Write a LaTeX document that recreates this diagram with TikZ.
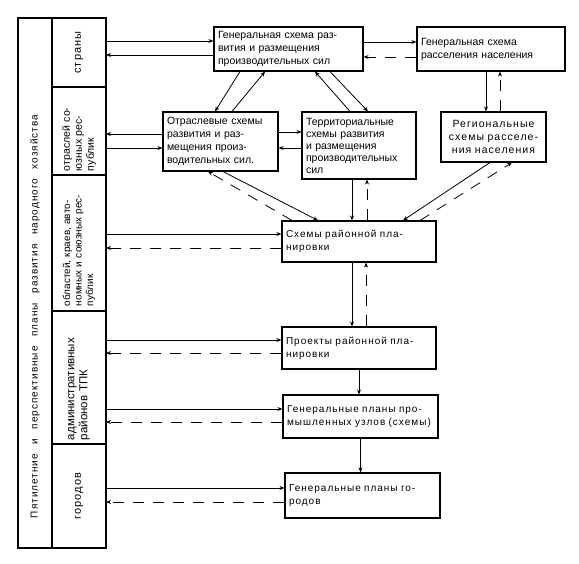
\documentclass[tikz,border=0pt]{standalone}
\usepackage{fontspec}
\setmainfont{Liberation Sans}
\newfontfamily\widefont[LetterSpace=10]{Liberation Sans}
\usetikzlibrary{arrows.meta}
\setlength{\parindent}{0pt}
\newcommand{\sline}[1]{\makebox[\hsize][s]{#1}}
\tikzset{
  box/.style={draw, line width=1.1pt, inner sep=3pt, align=left, font=\fontsize{10.5}{13}\selectfont},
  lowbox/.style={box, font=\widefont\fontsize{10}{13}\selectfont},
  colbox/.style={draw, line width=1.1pt, inner sep=3pt, rotate=90, minimum height=54pt, font=\fontsize{10}{11.5}\selectfont},
  arr/.style={-{Stealth[length=5pt,width=4pt]}, line width=0.8pt},
  dsh/.style={arr, dash pattern=on 11pt off 9pt}
}
\begin{document}
\begin{tikzpicture}[x=1pt,y=-1pt]
\useasboundingbox (0,0) rectangle (579,563);
% left column
\node[draw, line width=1.1pt, inner sep=0pt, rotate=90, minimum width=530pt, minimum height=34pt, font=\widefont\fontsize{10}{12}\selectfont] (plan) at (35,283)
  {\makebox[470pt][l]{\makebox[403pt][s]{Пятилетние и перспективные планы развития народного хозяйства}}};
\node[colbox, minimum width=69pt, font=\widefont\fontsize{11}{13}\selectfont] (strany) at (79,52.5) {страны};
\node[colbox, minimum width=88pt, text width=80pt, align=left, font=\fontsize{10.5}{12}\selectfont] (otrasl) at (79,131)
  {\sline{отраслей со-}\\\sline{юзных рес-}\\публик};
\node[colbox, minimum width=136pt, text width=126pt, align=left] (oblast) at (79,243)
  {\sline{областей, краев, авто-}\\\sline{номных и союзных рес-}\\публик};
\node[colbox, minimum width=133pt, text width=125pt, align=left, font=\fontsize{11.5}{13}\selectfont] (admin) at (79,377.5)
  {административных\\районов ТПК};
\node[colbox, minimum width=104pt, font=\widefont\fontsize{11}{13}\selectfont] (goroda) at (79,496) {городов};
% boxes
\node[box, minimum width=149pt, minimum height=44pt, text width=141pt] (gs) at (288.5,49)
  {\sline{Генеральная схема раз-}\\вития и размещения\\производительных сил};
\node[box, minimum width=148pt, minimum height=44pt, text width=140pt] (gr) at (491,49)
  {\sline{Генеральная схема}\\\sline{расселения населения}};
\node[box, minimum width=115pt, minimum height=59pt, text width=107pt] (otr) at (220.5,141.5)
  {\sline{Отраслевые схемы}\\\sline{развития и раз-}\\\sline{мещения произ-}\\водительных сил.};
\node[box, minimum width=114pt, minimum height=67pt, text width=106pt, font=\fontsize{10.5}{12}\selectfont] (ter) at (359,145.5)
  {Территориальные\\схемы развития\\и размещения\\производительных\\сил};
\node[box, minimum width=105pt, minimum height=50pt, text width=97pt, align=center, font=\widefont\fontsize{10.5}{13}\selectfont] (reg) at (493.5,137)
  {Региональные\\схемы расселе-\\ния населения};
\node[lowbox, minimum width=154pt, minimum height=41pt, text width=146pt] (srp) at (359,241.5)
  {\sline{Схемы районной пла-}\\нировки};
\node[lowbox, minimum width=154pt, minimum height=42pt, text width=146pt] (prp) at (359,348)
  {\sline{Проекты районной пла-}\\нировки};
\node[lowbox, minimum width=155pt, minimum height=43pt, text width=147pt] (pu) at (360.5,416.5)
  {\sline{Генеральные планы про-}\\\sline{мышленных узлов (схемы)}};
\node[lowbox, minimum width=155pt, minimum height=45pt, text width=147pt] (pg) at (362.5,495.5)
  {\sline{Генеральные планы го-}\\родов};
% left edge coordinates
\coordinate (Ls1) at (106,41);
\coordinate (Ls2) at (106,55);
\coordinate (Lo1) at (106,134);
\coordinate (Lo2) at (106,148);
\coordinate (Lb1) at (106,234);
\coordinate (Lb2) at (106,248);
\coordinate (La1) at (106,340);
\coordinate (La2) at (106,353);
\coordinate (La3) at (106,409);
\coordinate (La4) at (106,422);
\coordinate (Lg1) at (106,488);
\coordinate (Lg2) at (106,502);
% connectors from the left column
\draw[arr] (Ls1) -- (Ls1 -| gs.west);
\draw[arr] (Ls2 -| gs.west) -- (Ls2);
\draw[arr] (Lo1 -| otr.west) -- (Lo1);
\draw[arr] (Lo2) -- (Lo2 -| otr.west);
\draw[arr] (Lb1) -- (Lb1 -| srp.west);
\draw[dsh] (Lb2 -| srp.west) -- (Lb2);
\draw[arr] (La1) -- (La1 -| prp.west);
\draw[dsh] (La2 -| prp.west) -- (La2);
\draw[arr] (La3) -- (La3 -| pu.west);
\draw[dsh] (La4 -| pu.west) -- (La4);
\draw[arr] (Lg1) -- (Lg1 -| pg.west);
\draw[dsh] (Lg2 -| pg.west) -- (Lg2);
% box to box
\draw[arr] ([yshift=7pt]gs.east) -- ([yshift=7pt]gr.west);
\draw[dsh] ([yshift=-8pt]gr.west) -- ([yshift=-8pt]gs.east);
\draw[arr] ([xshift=-5pt]gr.south) -- ([xshift=-5pt]gr.south |- reg.north);
\draw[dsh] ([xshift=9pt]gr.south |- reg.north) -- ([xshift=9pt]gr.south);
\draw[arr] ([xshift=-48.5pt]gs.south) -- ([xshift=-5.5pt]otr.north);
\draw[arr] ([xshift=11.5pt]otr.north) -- ([xshift=-23.5pt]gs.south);
\draw[arr] ([xshift=-9pt]ter.north) -- ([xshift=26.5pt]gs.south);
\draw[arr] ([xshift=41.5pt]gs.south) -- ([xshift=9pt]ter.north);
\draw[arr] ([yshift=9.5pt]otr.east) -- ([yshift=9.5pt]otr.east -| ter.west);
\draw[arr] ([yshift=-6.5pt]otr.east -| ter.west) -- ([yshift=-6.5pt]otr.east);
\draw[arr] ([xshift=2.5pt]otr.south) -- ([xshift=-41pt]srp.north);
\draw[dsh] ([xshift=-67pt]srp.north) -- ([xshift=-12.5pt]otr.south);
\draw[arr] ([xshift=-7pt]ter.south) -- ([xshift=-7pt]srp.north);
\draw[dsh] ([xshift=8pt]srp.north) -- ([xshift=8pt]ter.south);
\draw[arr] ([xshift=-3.5pt]reg.south) -- ([xshift=44pt]srp.north);
\draw[dsh] ([xshift=61pt]srp.north) -- ([xshift=18.5pt]reg.south);
\draw[arr] ([xshift=-7pt]srp.south) -- ([xshift=-7pt]prp.north);
\draw[dsh] ([xshift=7pt]prp.north) -- ([xshift=7pt]srp.south);
\draw[arr] (prp.south) -- (prp.south |- pu.north);
\draw[arr] (pu.south) -- (pu.south |- pg.north);
\end{tikzpicture}
\end{document}
